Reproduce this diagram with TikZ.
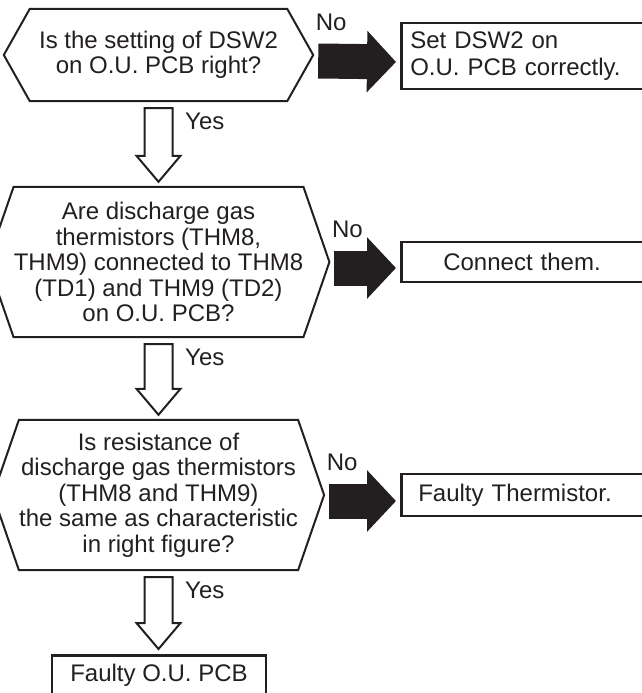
\documentclass[tikz,border=0pt]{standalone}
\usepackage{fontspec}
\setmainfont{Liberation Sans}
\usetikzlibrary{arrows.meta,positioning,calc}
\definecolor{Ink}{HTML}{231F20}

\tikzset{
  ask/.style={minimum width=257pt,inner sep=0pt,align=center,text=Ink,
    font=\fontsize{24}{25.5}\selectfont},
  act/.style={draw=Ink,line width=2.6pt,anchor=west,align=left,inner ysep=0pt,
    text=Ink,font=\fontsize{24}{27}\selectfont},
  hexline/.style={draw=Ink,line width=2pt,line join=miter},
  noarrow/.style={draw=Ink,line width=35pt,-{Triangle[width=60pt,length=29pt]},shorten >=4pt},
  yesarrow/.style={draw=Ink,fill=white,line width=2pt},
  tag/.style={text=Ink,inner sep=0pt,font=\fontsize{24}{25.5}\selectfont}
}

% hollow down arrow between two question blocks
\newcommand\fatdown[2]{%
  \draw[yesarrow] let \p1=([yshift=-7pt]#1.south), \p2=([yshift=5pt]#2.north) in
    (\x1-14pt,\y1) -- (\x1+14pt,\y1) -- (\x1+14pt,\y2+26pt) -- (\x1+22pt,\y2+26pt)
    -- (\x1,\y2) -- (\x1-22pt,\y2+26pt) -- (\x1-14pt,\y2+26pt) -- cycle;}

\begin{document}
\begin{tikzpicture}[x=1pt,y=-1pt]
  \useasboundingbox (0,0) rectangle (642,693);
  \clip (0,0) rectangle (642,693);

  % questions
  \node[ask,minimum height=92pt] (q1) at (158.5,55) {Is the setting of DSW2\\on O.U. PCB right?};
  \node[ask,minimum height=150pt] (q2) at (158.5,262)
    {Are discharge gas\\thermistors (THM8,\\THM9) connected to THM8\\(TD1) and THM9 (TD2)\\on O.U. PCB?};
  \node[ask,minimum height=150pt] (q3) at (158.5,495)
    {Is resistance of\\discharge gas thermistors\\(THM8 and THM9)\\the same as characteristic\\in right figure?};
  \foreach \q in {q1,q2,q3}
    \draw[hexline] (\q.north west) -- (\q.north east) -- ([xshift=26pt]\q.east)
      -- (\q.south east) -- (\q.south west) -- ([xshift=-26pt]\q.west) -- cycle;

  % actions
  \node[act,minimum height=66pt,inner xsep=9pt,text width=232pt] (s1) at (400,56) {Set DSW2 on\\O.U. PCB correctly.};
  \node[act,minimum height=40pt,inner xsep=42pt,text width=166pt] (s2) at (400,262) {Connect them.};
  \node[act,minimum height=42pt,inner xsep=17pt,text width=216pt] (s3) at (400,495) {Faulty Thermistor.};
  \node[act,anchor=north,align=center,minimum width=214pt,inner ysep=9pt,
    text height=17pt,text depth=16pt] (f) at (159,654) {Faulty O.U. PCB};

  % no branches
  \foreach \q/\s in {q1/s1,q2/s2,q3/s3}{
    \draw[noarrow] ([xshift=31pt,yshift=-6pt]\q.east) -- ([yshift=-6pt]\s.west);
    \node[tag] (no-\q) at ([xshift=44pt,yshift=33pt]\q.east) {No};
  }

  % yes branches
  \fatdown{q1}{q2}
  \fatdown{q2}{q3}
  \fatdown{q3}{f}
  \node[tag,anchor=west] (yes1) at (185,121) {Yes};
  \node[tag,anchor=west] (yes2) at (185,357) {Yes};
  \node[tag,anchor=west] (yes3) at (185,590) {Yes};
\end{tikzpicture}
\end{document}
